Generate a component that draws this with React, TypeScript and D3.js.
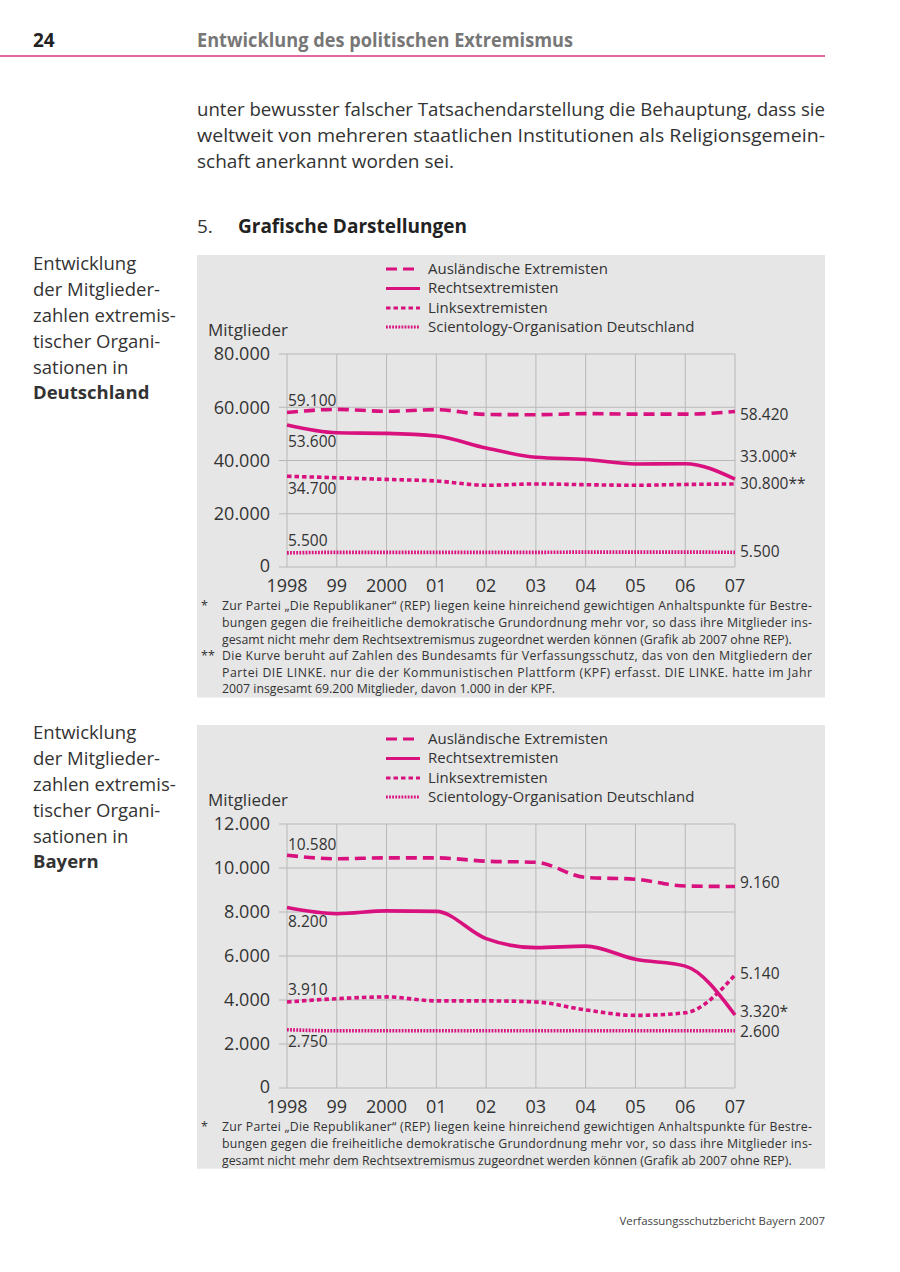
import React from 'react';
import * as d3 from 'd3';

const years = ['1998', '99', '2000', '01', '02', '03', '04', '05', '06', '07'];
const seriesNames = [
  'Ausländische Extremisten',
  'Rechtsextremisten',
  'Linksextremisten',
  'Scientology-Organisation Deutschland',
];

// Deutschland
const deAuslaender = [58000, 59200, 58500, 59100, 57300, 57200, 57600, 57400, 57400, 58420];
const deRechts = [53300, 50400, 50200, 49200, 44700, 41200, 40400, 38700, 38800, 33000];
const deLinks = [34100, 33500, 32900, 32300, 30700, 31200, 30900, 30700, 31000, 31200];
const deScientology = [5300, 5500, 5500, 5500, 5500, 5500, 5600, 5600, 5600, 5500];
const deTicks = [0, 20000, 40000, 60000, 80000];
const deStartLabels = ['59.100', '53.600', '34.700', '5.500'];
const deEndLabels = ['58.420', '33.000*', '30.800**', '5.500'];

// Bayern
const byAuslaender = [10580, 10420, 10460, 10460, 10310, 10260, 9570, 9490, 9180, 9160];
const byRechts = [8200, 7920, 8050, 8030, 6790, 6380, 6450, 5850, 5540, 3320];
const byLinks = [3910, 4060, 4140, 3960, 3960, 3910, 3550, 3300, 3420, 5140];
const byScientology = [2650, 2600, 2600, 2600, 2600, 2600, 2600, 2600, 2600, 2600];
const byTicks = [0, 2000, 4000, 6000, 8000, 10000, 12000];
const byStartLabels = ['10.580', '8.200', '3.910', '2.750'];
const byEndLabels = ['9.160', '3.320*', '5.140', '2.600'];

const noteRep = [
  'Zur Partei „Die Republikaner“ (REP) liegen keine hinreichend gewichtigen Anhaltspunkte für Bestre-',
  'bungen gegen die freiheitliche demokratische Grundordnung mehr vor, so dass ihre Mitglieder ins-',
  'gesamt nicht mehr dem Rechtsextremismus zugeordnet werden können (Grafik ab 2007 ohne REP).',
];
const noteLinke = [
  'Die Kurve beruht auf Zahlen des Bundesamts für Verfassungsschutz, das von den Mitgliedern der',
  'Partei  DIE LINKE. nur die der Kommunistischen Plattform (KPF) erfasst. DIE LINKE. hatte im Jahr',
  '2007 insgesamt 69.200 Mitglieder, davon 1.000 in der KPF.',
];

const PINK = '#d9117f';
const TEXT = '#333';
const FONT = '"Open Sans", "Noto Sans", sans-serif';
const dashes = ['11 6', null, '4.5 3', '1.8 1.3'];

const de = d3.formatLocale({ decimal: ',', thousands: '.', grouping: [3], currency: ['', '€'] });
const fmt = de.format(',');

function Chart({ top, plotH, yMax, ticks, series, startLabels, startOff, endLabels, endOff, notes }) {
  const plotTop = top + 99;
  const x = d3.scalePoint().domain(years).range([287, 735]);
  const y = d3.scaleLinear().domain([0, yMax]).range([plotTop + plotH, plotTop]);
  const line = d3
    .line<number>()
    .x((d, i) => x(years[i]))
    .y(d => y(d))
    .curve(d3.curveMonotoneX);

  const legendRows = [14, 33.5, 53, 72];
  const noteTop = plotTop + plotH + 39;
  const step = 16.6;
  const nLines = notes.reduce((n, g) => n + g.lines.length, 0);
  const panelH = noteTop - top + (nLines - 1) * step + 8.5;

  let li = 0;
  return (
    <g>
      <rect x={197} y={top} width={628} height={panelH} fill="#e6e6e6" />
      {/* legend */}
      {seriesNames.map((n, i) => (
        <g key={n}>
          <line
            x1={386}
            x2={420}
            y1={top + legendRows[i]}
            y2={top + legendRows[i]}
            stroke={PINK}
            strokeWidth={3.2}
            strokeDasharray={dashes[i] || undefined}
          />
          <text x={428} y={top + legendRows[i]} dy="0.33em" fontSize={15} fill={TEXT}>
            {n}
          </text>
        </g>
      ))}
      <text x={208} y={top + 75} dy="0.35em" fontSize={17} fill={TEXT}>
        Mitglieder
      </text>
      {/* grid */}
      {ticks.map(t => (
        <g key={t}>
          <line x1={279} x2={735} y1={y(t)} y2={y(t)} stroke="#b8b8b8" strokeWidth={1} />
          <text x={270} y={y(t) - (t === 0 ? 1 : 0)} dy="0.35em" textAnchor="end" fontSize={18} fill={TEXT}>
            {fmt(t)}
          </text>
        </g>
      ))}
      {years.map(yr => (
        <g key={yr}>
          <line x1={x(yr)} x2={x(yr)} y1={plotTop} y2={y(0)} stroke="#b8b8b8" strokeWidth={1} />
          <text x={x(yr)} y={y(0) + 19} dy="0.35em" textAnchor="middle" fontSize={18} fill={TEXT}>
            {yr}
          </text>
        </g>
      ))}
      {/* series */}
      {series.map((s, i) => (
        <path
          key={i}
          d={line(s)}
          fill="none"
          stroke={PINK}
          strokeWidth={3.6}
          strokeDasharray={dashes[i] || undefined}
        />
      ))}
      {series.map((s, i) => (
        <g key={'l' + i}>
          <text x={288} y={y(s[0]) + startOff[i]} dy="0.35em" fontSize={15.5} fill={TEXT}>
            {startLabels[i]}
          </text>
          <text
            x={740}
            y={y(s[s.length - 1]) + endOff[i]}
            dy="0.35em"
            fontSize={15.5}
            fill={TEXT}
          >
            {endLabels[i]}
          </text>
        </g>
      ))}
      {/* footnotes */}
      {notes.map(g =>
        g.lines.map((t, j) => {
          const yy = noteTop + li * step;
          li++;
          const last = j === g.lines.length - 1;
          return (
            <g key={t}>
              {j === 0 && (
                <text x={201} y={yy} dy="0.35em" fontSize={12.5} fill={TEXT}>
                  {g.mark}
                </text>
              )}
              <text
                x={222}
                y={yy}
                dy="0.35em"
                fontSize={12.3}
                fill={TEXT}
                textLength={last ? undefined : 590}
                lengthAdjust="spacing"
              >
                {t}
              </text>
            </g>
          );
        }),
      )}
    </g>
  );
}

function SideLabel({ top, place }) {
  const lines = ['Entwicklung', 'der Mitglieder-', 'zahlen extremis-', 'tischer Organi-', 'sationen in'];
  return (
    <g fontSize={18.5} fill={TEXT}>
      {lines.map((l, i) => (
        <text key={l} x={33} y={top + i * 25.8} dy="0.35em">
          {l}
        </text>
      ))}
      <text x={33} y={top + 5 * 25.8} dy="0.35em" fontWeight="bold">
        {place}
      </text>
    </g>
  );
}

export default function App() {
  return (
    <svg
      width={900}
      height={1272}
      style={{ position: 'absolute', left: 0, top: 0, background: '#fff' }}
      fontFamily={FONT}
    >
      <rect width={900} height={1272} fill="#fff" />
      <text x={33} y={40} dy="0.35em" fontSize={19} fontWeight="bold" fill="#222">
        24
      </text>
      <text
        x={197}
        y={40}
        dy="0.35em"
        fontSize={19}
        fontWeight="bold"
        fill="#777"
        textLength={376}
        lengthAdjust="spacingAndGlyphs"
      >
        Entwicklung des politischen Extremismus
      </text>
      <line x1={0} x2={825} y1={56} y2={56} stroke="#e0679f" strokeWidth={2} />

      <g fontSize={19} fill={TEXT}>
        <text x={197} y={109} dy="0.35em" textLength={628} lengthAdjust="spacingAndGlyphs">
          unter bewusster falscher Tatsachendarstellung die Behauptung, dass sie
        </text>
        <text x={197} y={135} dy="0.35em" textLength={628} lengthAdjust="spacingAndGlyphs">
          weltweit von mehreren staatlichen Institutionen als Religionsgemein-
        </text>
        <text x={197} y={161} dy="0.35em">
          schaft anerkannt worden sei.
        </text>
        <text x={197} y={226} dy="0.35em">
          5.
        </text>
        <text x={238} y={226} dy="0.35em" fontWeight="bold" fill="#222">
          Grafische Darstellungen
        </text>
      </g>

      <SideLabel top={264} place="Deutschland" />
      <SideLabel top={733} place="Bayern" />

      <Chart
        top={255}
        plotH={213}
        yMax={80000}
        ticks={deTicks}
        series={[deAuslaender, deRechts, deLinks, deScientology]}
        startLabels={deStartLabels}
        startOff={[-12, 16, 12, -12]}
        endLabels={deEndLabels}
        endOff={[3, -23, 0, -1]}
        notes={[
          { mark: '*', lines: noteRep },
          { mark: '**', lines: noteLinke },
        ]}
      />
      <Chart
        top={725}
        plotH={264}
        yMax={12000}
        ticks={byTicks}
        series={[byAuslaender, byRechts, byLinks, byScientology]}
        startLabels={byStartLabels}
        startOff={[-11, 14, -12, 12]}
        endLabels={byEndLabels}
        endOff={[-4, -3, -1, 1]}
        notes={[{ mark: '*', lines: noteRep }]}
      />

      <text x={825} y={1221} dy="0.35em" textAnchor="end" fontSize={11.4} fill="#444">
        Verfassungsschutzbericht Bayern 2007
      </text>
    </svg>
  );
}
